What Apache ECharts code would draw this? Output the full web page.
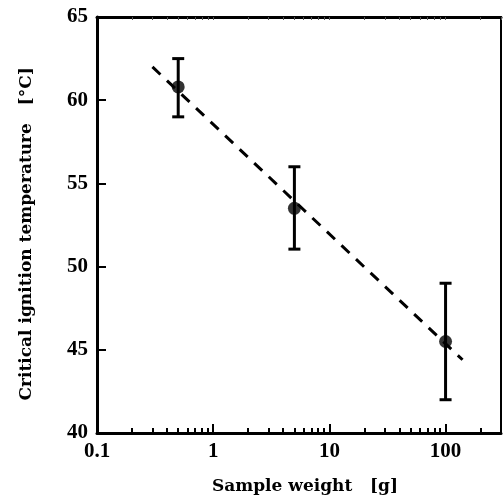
<!DOCTYPE html>
<html><head><meta charset="utf-8">
<script src="https://cdn.jsdelivr.net/npm/echarts@6/dist/echarts.min.js"></script>
<style>html,body{margin:0;padding:0;background:#fff}#c{width:503px;height:501px}</style>
</head><body><div id="c"></div>
<script>
const weights = [0.5, 5, 100];
const temps = [60.8, 53.5, 45.5];
const errLow = [59.0, 51.05, 42.0];
const errHigh = [62.5, 56.0, 49.0];
const fitX = [0.3, 140];
const fitY = [62.0, 44.4];
const xMajorTicks = [1, 10, 100];
const xMinorTicks = [0.2,0.3,0.4,0.5,0.6,0.7,0.8,0.9,2,3,4,5,6,7,8,9,20,30,40,50,60,70,80,90,200,300];
const xLabels = [0.1, 1, 10, 100];
const yTicks = [40, 45, 50, 55, 60, 65];

const serif = '"DejaVu Serif", "Liberation Serif", serif';
const times = '"Liberation Serif", serif';
const chart = echarts.init(document.getElementById('c'));
const axisBase = {type:'log', logBase:10, min:0.1, max:300, gridIndex:0};
chart.setOption({
  animation:false,
  grid:{left:97, right:2, top:17, bottom:68, containLabel:false},
  xAxis:[
    Object.assign({}, axisBase, {
      position:'bottom',
      name:'Sample weight   [g]', nameLocation:'middle', nameGap:45,
      nameTextStyle:{fontFamily:serif, fontSize:17, color:'#000', fontWeight:'bold', padding:[0,0,0,12]},
      axisLine:{lineStyle:{color:'#000', width:3}},
      axisTick:{inside:true, length:9, lineStyle:{color:'#000', width:2}, customValues:xMajorTicks},
      axisLabel:{customValues:xLabels, fontFamily:times, fontSize:21, color:'#000', fontWeight:'bold', margin:8,
        formatter:v=>String(v)},
      splitLine:{show:false}, minorTick:{show:false}
    }),
    Object.assign({}, axisBase, {
      position:'bottom', offset:0,
      axisLine:{show:false},
      axisTick:{inside:true, length:5, lineStyle:{color:'#000', width:2}, customValues:xMinorTicks},
      axisLabel:{show:false}, splitLine:{show:false}
    }),
    Object.assign({}, axisBase, {
      position:'top',
      axisLine:{lineStyle:{color:'#000', width:3}},
      axisTick:{inside:true, length:3, lineStyle:{color:'#555', width:1}, customValues:xMinorTicks.concat(xMajorTicks)},
      axisLabel:{show:false}, splitLine:{show:false}
    })
  ],
  yAxis:[
    {type:'value', min:40, max:65, interval:5, position:'left',
     name:'Critical ignition temperature   [°C]   ', nameLocation:'middle', nameGap:62,
     nameTextStyle:{fontFamily:serif, fontSize:17, color:'#000', fontWeight:'bold'},
     axisLine:{show:true, lineStyle:{color:'#000', width:3}},
     axisTick:{show:true, inside:true, length:9, lineStyle:{color:'#000', width:2}},
     axisLabel:{fontFamily:times, fontSize:21, color:'#000', fontWeight:'bold', margin:9,
       formatter:v=>yTicks.includes(v)?String(v):''},
     splitLine:{show:false}},
    {type:'value', min:40, max:65, interval:5, position:'right',
     axisLine:{show:true, lineStyle:{color:'#000', width:2}},
     axisTick:{show:false}, axisLabel:{show:false}, splitLine:{show:false}}
  ],
  series:[
    {type:'line', xAxisIndex:0, yAxisIndex:0, data:fitX.map((x,i)=>[x, fitY[i]]),
     symbol:'none', lineStyle:{color:'#000', width:3, type:[11,9]}, z:2},
    {type:'custom', xAxisIndex:0, yAxisIndex:0, z:3,
     data:weights.map((w,i)=>[w, errLow[i], errHigh[i]]),
     renderItem:function(params, api){
       const lo = api.coord([api.value(0), api.value(1)]);
       const hi = api.coord([api.value(0), api.value(2)]);
       const hw = 6;
       const st = {stroke:'#000', lineWidth:3};
       return {type:'group', children:[
         {type:'line', shape:{x1:lo[0], y1:lo[1], x2:hi[0], y2:hi[1]}, style:st},
         {type:'line', shape:{x1:lo[0]-hw, y1:lo[1], x2:lo[0]+hw, y2:lo[1]}, style:st},
         {type:'line', shape:{x1:hi[0]-hw, y1:hi[1], x2:hi[0]+hw, y2:hi[1]}, style:st}
       ]};
     }},
    {type:'scatter', xAxisIndex:0, yAxisIndex:0, z:4, data:weights.map((w,i)=>[w, temps[i]]),
     symbol:'circle', symbolSize:13, itemStyle:{color:'#000'}}
  ]
});
</script></body></html>
